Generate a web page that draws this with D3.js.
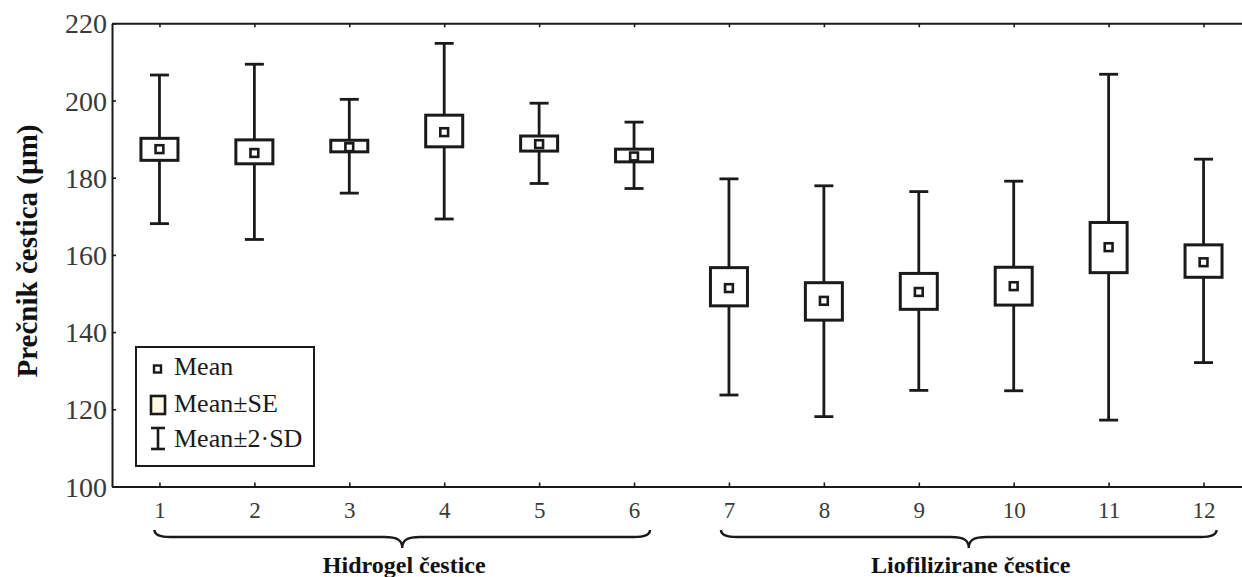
<!DOCTYPE html>
<html>
<head>
<meta charset="utf-8">
<script src="https://cdn.jsdelivr.net/npm/d3@7"></script>
<style>
  html, body { margin: 0; padding: 0; background: #fff; }
  svg { display: block; }
  text { font-family: "Liberation Serif", "Times New Roman", serif; }
</style>
</head>
<body>
<svg id="chart" width="1242" height="577"></svg>
<script>
// Particle diameter (µm) per sample: mean, mean ± SE, mean ± 2·SD
const categories = [1, 2, 3, 4, 5, 6, 7, 8, 9, 10, 11, 12];
const means  = [187.4, 186.4, 187.9, 191.8, 188.7, 185.5, 151.4, 148.1, 150.4, 151.9, 162.0, 158.1];
const seLow  = [184.5, 183.6, 186.7, 188.0, 186.9, 184.1, 146.8, 143.1, 145.9, 147.0, 155.4, 154.2];
const seHigh = [190.2, 189.8, 189.7, 196.2, 190.8, 187.4, 156.7, 152.8, 155.2, 156.8, 168.4, 162.6];
const sdLow  = [168.1, 164.0, 176.0, 169.3, 178.5, 177.2, 123.7, 118.1, 124.9, 124.8, 117.2, 132.1];
const sdHigh = [206.6, 209.4, 200.3, 214.8, 199.3, 194.4, 179.7, 177.9, 176.4, 179.1, 206.8, 184.8];
const yTicks = [100, 120, 140, 160, 180, 200, 220];
const groupNames = ["Hidrogel čestice", "Liofilizirane čestice"];
const groupMembers = [[1, 2, 3, 4, 5, 6], [7, 8, 9, 10, 11, 12]];
const yTitle = "Prečnik čestica (µm)";
const legendLabels = ["Mean", "Mean±SE", "Mean±2·SD"];

const svg = d3.select("#chart");
const ink = "#1a1a1a";

const x = d3.scaleLinear().domain([0.5, 12.5]).range([112, 1251]);
const y = d3.scaleLinear().domain([100, 220]).range([486.5, 23.3]);

const data = categories.map((c, i) => ({
  c, mean: means[i], seLo: seLow[i], seHi: seHigh[i], sdLo: sdLow[i], sdHi: sdHigh[i]
}));

// Frame: bottom, top and left axes with inward ticks
const xAxisB = svg.append("g").attr("transform", `translate(0,${y(100)})`)
  .call(d3.axisBottom(x).tickValues(categories).tickSizeInner(-4).tickSizeOuter(0).tickPadding(0).tickFormat(d3.format("d")));
const xAxisT = svg.append("g").attr("transform", `translate(0,${y(220)})`)
  .call(d3.axisTop(x).tickValues(categories).tickSizeInner(-4).tickSizeOuter(0).tickFormat(""));
const yAxisL = svg.append("g").attr("transform", `translate(${x(0.5)},0)`)
  .call(d3.axisLeft(y).tickValues(yTicks).tickSizeInner(-4).tickSizeOuter(0).tickPadding(0).tickFormat(d3.format("d")));

[xAxisB, xAxisT, yAxisL].forEach(g => {
  g.select(".domain").attr("stroke", ink).attr("stroke-width", 2);
  g.selectAll(".tick line").attr("stroke", ink).attr("stroke-width", 1.6);
});
xAxisB.selectAll(".tick text")
  .attr("y", 31.5).attr("dy", 0)
  .attr("font-size", 23).attr("fill", "#3a3a3a")
  .style("font-family", "Liberation Serif");
yAxisL.selectAll(".tick text")
  .attr("x", -5).attr("dy", "0.34em")
  .attr("font-size", 28).attr("fill", "#3a3a3a")
  .style("font-family", "Liberation Serif");

// Whiskers: mean ± 2·SD
const capHalf = 9.5;
const marks = svg.append("g").attr("stroke", ink).attr("fill", "none");
marks.selectAll("line.whisker").data(data).join("line")
  .attr("class", "whisker")
  .attr("x1", d => x(d.c)).attr("x2", d => x(d.c))
  .attr("y1", d => y(d.sdLo)).attr("y2", d => y(d.sdHi))
  .attr("stroke-width", 2.8);
marks.selectAll("line.capHi").data(data).join("line")
  .attr("class", "capHi")
  .attr("x1", d => x(d.c) - capHalf).attr("x2", d => x(d.c) + capHalf)
  .attr("y1", d => y(d.sdHi)).attr("y2", d => y(d.sdHi))
  .attr("stroke-width", 2.8);
marks.selectAll("line.capLo").data(data).join("line")
  .attr("class", "capLo")
  .attr("x1", d => x(d.c) - capHalf).attr("x2", d => x(d.c) + capHalf)
  .attr("y1", d => y(d.sdLo)).attr("y2", d => y(d.sdLo))
  .attr("stroke-width", 2.8);

// Boxes: mean ± SE
const boxHalf = 18.5;
marks.selectAll("rect.se").data(data).join("rect")
  .attr("class", "se")
  .attr("x", d => x(d.c) - boxHalf).attr("width", boxHalf * 2)
  .attr("y", d => y(d.seHi)).attr("height", d => y(d.seLo) - y(d.seHi))
  .attr("fill", "#fff").attr("stroke-width", 3);

// Mean markers
const mHalf = 3.9;
marks.selectAll("rect.mean").data(data).join("rect")
  .attr("class", "mean")
  .attr("x", d => x(d.c) - mHalf).attr("width", mHalf * 2)
  .attr("y", d => y(d.mean) - mHalf).attr("height", mHalf * 2)
  .attr("fill", "#fff").attr("stroke-width", 2.6);

// Curly braces grouping the samples
const braceTop = 530, braceMid = 537, braceTip = 548;
function bracePath(x0, x1) {
  const m = (x0 + x1) / 2;
  return `M${x0},${braceTop} Q${x0},${braceMid} ${x0 + 16},${braceMid}` +
    ` L${m - 18},${braceMid} C${m - 5},${braceMid} ${m},${braceMid + 3} ${m},${braceTip}` +
    ` C${m},${braceMid + 3} ${m + 5},${braceMid} ${m + 18},${braceMid}` +
    ` L${x1 - 16},${braceMid} Q${x1},${braceMid} ${x1},${braceTop}`;
}
const groups = groupNames.map((name, i) => {
  const members = groupMembers[i];
  const x0 = x(members[0]) - (i === 0 ? 5 : 8);
  const x1 = x(members[members.length - 1]) + (i === 0 ? 16 : 13);
  return { name, x0, x1 };
});
const gBr = svg.append("g");
gBr.selectAll("path").data(groups).join("path")
  .attr("d", d => bracePath(d.x0, d.x1))
  .attr("fill", "none").attr("stroke", ink).attr("stroke-width", 2.4);
gBr.selectAll("text").data(groups).join("text")
  .attr("x", d => (d.x0 + d.x1) / 2 + 2).attr("y", 573)
  .attr("text-anchor", "middle")
  .attr("font-size", 24).attr("font-weight", "bold").attr("fill", "#111")
  .text(d => d.name);

// Y axis title
svg.append("text")
  .attr("transform", "translate(37,251) rotate(-90)")
  .attr("text-anchor", "middle")
  .attr("font-size", 29).attr("font-weight", "bold").attr("fill", "#111")
  .text(yTitle);

// Legend
const lg = svg.append("g");
lg.append("rect").attr("x", 136).attr("y", 347).attr("width", 178).attr("height", 119)
  .attr("fill", "#fff").attr("stroke", ink).attr("stroke-width", 2);
const rowY = [375, 412, 447];
lg.append("rect").attr("x", 157.5 - 3.5).attr("y", 369 - 3.5).attr("width", 7).attr("height", 7)
  .attr("fill", "#fff").attr("stroke", ink).attr("stroke-width", 2.4);
lg.append("rect").attr("x", 151).attr("y", 396).attr("width", 14).attr("height", 18)
  .attr("fill", "#fff8e4").attr("stroke", ink).attr("stroke-width", 2.6);
lg.append("line").attr("x1", 158).attr("x2", 158).attr("y1", 428).attr("y2", 449)
  .attr("stroke", ink).attr("stroke-width", 2.6);
lg.append("line").attr("x1", 151).attr("x2", 165).attr("y1", 428).attr("y2", 428)
  .attr("stroke", ink).attr("stroke-width", 2.6);
lg.append("line").attr("x1", 151).attr("x2", 165).attr("y1", 449).attr("y2", 449)
  .attr("stroke", ink).attr("stroke-width", 2.6);
lg.selectAll("text").data(legendLabels).join("text")
  .attr("x", 174).attr("y", (d, i) => rowY[i])
  .attr("font-size", 26).attr("fill", "#1a1a1a")
  .text(d => d);
</script>
</body>
</html>
